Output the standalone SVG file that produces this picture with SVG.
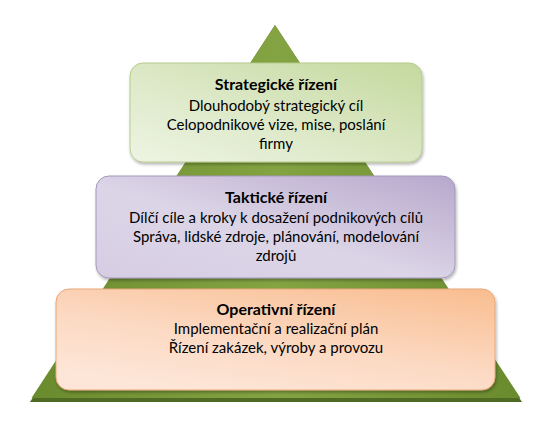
<svg xmlns="http://www.w3.org/2000/svg" width="547" height="433" viewBox="0 0 547 433">
  <defs>
    <linearGradient id="gTri" x1="0" y1="0" x2="1" y2="0">
      <stop offset="0" stop-color="#6a8a2e"/>
      <stop offset="0.5" stop-color="#84a443"/>
      <stop offset="1" stop-color="#6a8a2e"/>
    </linearGradient>
    <linearGradient id="gGreen" x1="1" y1="0" x2="0" y2="1">
      <stop offset="0" stop-color="#c4d99e"/>
      <stop offset="0.6" stop-color="#dfeacb"/>
      <stop offset="1" stop-color="#eef4e3"/>
    </linearGradient>
    <linearGradient id="gPurple" x1="1" y1="0" x2="0" y2="1">
      <stop offset="0" stop-color="#b7a8cc"/>
      <stop offset="0.55" stop-color="#dcd5e7"/>
      <stop offset="1" stop-color="#d6cde3"/>
    </linearGradient>
    <linearGradient id="gOrange" x1="0.9" y1="0" x2="0.3" y2="1">
      <stop offset="0" stop-color="#f9bf93"/>
      <stop offset="0.6" stop-color="#fcdac4"/>
      <stop offset="1" stop-color="#fde6d8"/>
    </linearGradient>
    <filter id="shadow" x="-5%" y="-10%" width="110%" height="125%">
      <feDropShadow dx="1" dy="2" stdDeviation="1.5" flood-color="#000" flood-opacity="0.3"/>
    </filter>
  </defs>
  <style>
    .box { stroke-width: 1; filter: url(#shadow); }
    .t { font-family: Lato, "Open Sans", "Liberation Sans", sans-serif; font-size: 15px; fill: #000; text-anchor: middle; }
    .b { font-weight: bold; font-size: 16px; }
  </style>
  <rect width="547" height="433" fill="#fff"/>
  <g id="pyramid">
    <polygon points="275,25 30,402 522,402" fill="#4f6a23"/>
    <polygon points="275,25 31.5,398 520.5,398" fill="url(#gTri)"/>
  </g>
  <g id="strategic">
    <rect class="box" x="130" y="63" width="292" height="99" rx="13" fill="url(#gGreen)" stroke="#b6cb8c"/>
    <text class="t b" x="276" y="90">Strategické řízení</text>
    <text class="t" x="276" y="111">Dlouhodobý strategický cíl</text>
    <text class="t" x="276" y="130">Celopodnikové vize, mise, poslání</text>
    <text class="t" x="276" y="149">firmy</text>
  </g>
  <g id="tactical">
    <rect class="box" x="96" y="176" width="359" height="102" rx="13" fill="url(#gPurple)" stroke="#a597bb"/>
    <text class="t b" x="276" y="203">Taktické řízení</text>
    <text class="t" x="276" y="223">Dílčí cíle a kroky k dosažení podnikových cílů</text>
    <text class="t" x="276" y="242">Správa, lidské zdroje, plánování, modelování</text>
    <text class="t" x="276" y="261">zdrojů</text>
  </g>
  <g id="operative">
    <rect class="box" x="56" y="289" width="439" height="101" rx="13" fill="url(#gOrange)" stroke="#e6a97a"/>
    <text class="t b" x="276" y="315">Operativní řízení</text>
    <text class="t" x="276" y="334">Implementační a realizační plán</text>
    <text class="t" x="276" y="353">Řízení zakázek, výroby a provozu</text>
  </g>
  <g id="connectors"/>
</svg>
